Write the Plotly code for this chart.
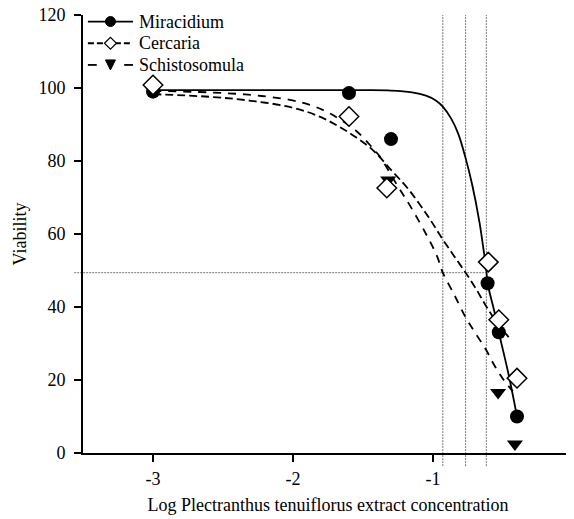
import plotly.graph_objects as go

# ---- data ----
mira_x = [-3.0, -1.60, -1.30, -0.61, -0.53, -0.40]
mira_y = [99.0, 98.6, 86.0, 46.5, 33.1, 10.0]

cerc_x = [-3.0, -1.60, -1.33, -0.605, -0.53, -0.40]
cerc_y = [100.8, 92.2, 72.6, 52.3, 36.5, 20.5]

schi_x = [-3.0, -1.32, -0.535, -0.415]
schi_y = [100.0, 74.8, 16.6, 2.5]

# fitted curves
mira_fit_x = [-3.0, -2.0, -1.5, -1.3, -1.15, -1.05, -0.98, -0.93, -0.87, -0.82, -0.77, -0.72, -0.667, -0.64, -0.62, -0.61, -0.56, -0.53, -0.46, -0.40]
mira_fit_y = [99.4, 99.4, 99.4, 99.3, 98.8, 97.9, 96.6, 94.9, 91.6, 87.5, 81.2, 73.5, 63.0, 56.0, 50.5, 46.5, 38.5, 33.1, 21.5, 10.0]

cerc_fit_x = [-3.0, -2.6, -2.3, -2.0, -1.8, -1.67, -1.55, -1.43, -1.31, -1.17, -1.03, -0.93, -0.85, -0.767, -0.69, -0.62, -0.54, -0.45]
cerc_fit_y = [98.3, 97.6, 96.5, 94.6, 92.0, 89.4, 86.5, 83.0, 78.0, 72.0, 64.5, 58.5, 54.0, 49.4, 44.8, 40.2, 35.6, 31.3]

schi_fit_x = [-3.0, -2.6, -2.3, -2.03, -1.88, -1.74, -1.55, -1.43, -1.38, -1.25, -1.16, -1.04, -0.97, -0.93, -0.85, -0.77, -0.70, -0.62, -0.56, -0.50, -0.43]
schi_fit_y = [99.2, 98.8, 98.1, 96.8, 95.4, 93.1, 88.3, 83.5, 81.2, 73.0, 67.5, 59.3, 53.8, 49.4, 43.5, 37.4, 33.0, 28.2, 23.9, 20.3, 16.9]

ec50_x = [-0.93, -0.767, -0.619]
half_y = 49.4

x_range = [-3.5, 0]
y_range = [0, 120]
x_ticks = [-3, -2, -1, 0]
y_ticks = [0, 20, 40, 60, 80, 100, 120]

legend_names = ["Miracidium", "Cercaria", "Schistosomula"]

FONT = "Liberation Serif, Times New Roman, serif"

fig = go.Figure()

# fit curves
fig.add_trace(go.Scatter(x=mira_fit_x, y=mira_fit_y, mode="lines", line=dict(color="black", width=1.8, shape="spline"), showlegend=False))
fig.add_trace(go.Scatter(x=cerc_fit_x, y=cerc_fit_y, mode="lines", line=dict(color="black", width=1.8, dash="8px,4px", shape="spline"), showlegend=False))
fig.add_trace(go.Scatter(x=schi_fit_x, y=schi_fit_y, mode="lines", line=dict(color="black", width=1.8, dash="8px,7px", shape="spline"), showlegend=False))

# points
fig.add_trace(go.Scatter(x=schi_x, y=schi_y, mode="markers", marker=dict(symbol="triangle-down", size=14, color="black"), showlegend=False))
fig.add_trace(go.Scatter(x=mira_x, y=mira_y, mode="markers", marker=dict(symbol="circle", size=14, color="black"), showlegend=False))
fig.add_trace(go.Scatter(x=cerc_x, y=cerc_y, mode="markers", marker=dict(symbol="diamond", size=15, color="white", line=dict(color="black", width=1.5)), showlegend=False))

# reference lines
span = x_range[1] - x_range[0]
for xv in ec50_x:
    fig.add_shape(type="line", xref="x", yref="paper", x0=xv, x1=xv, y0=-0.03, y1=1,
                  line=dict(color="#777777", width=1, dash="2px,1px"), layer="below")
fig.add_shape(type="line", xref="paper", yref="y", x0=-0.018, x1=(max(ec50_x) - x_range[0]) / span,
              y0=half_y, y1=half_y, line=dict(color="#777777", width=1, dash="2px,1px"), layer="below")

# ---- hand-drawn legend (paper coords, pixel-sized glyphs) ----
leg_y = [0.985, 0.9355, 0.886]
lx0, lx1, lmark, ltext = 0.010, 0.102, 0.056, 0.110
black = dict(color="black", width=1.8)
# Miracidium: solid line + filled circle
fig.add_shape(type="line", xref="paper", yref="paper", x0=lx0, x1=lx1, y0=leg_y[0], y1=leg_y[0], line=black)
fig.add_shape(type="circle", xref="paper", yref="paper", xsizemode="pixel", ysizemode="pixel",
              xanchor=lmark, yanchor=leg_y[0], x0=-5, x1=5, y0=-5, y1=5,
              fillcolor="black", line=dict(color="black", width=1))
# Cercaria: dashed line + open diamond
fig.add_shape(type="line", xref="paper", yref="paper", x0=lx0, x1=lx1, y0=leg_y[1], y1=leg_y[1],
              line=dict(color="black", width=1.8, dash="6px,3px"))
fig.add_shape(type="path", xref="paper", yref="paper", xsizemode="pixel", ysizemode="pixel",
              xanchor=lmark, yanchor=leg_y[1], path="M -6 0 L 0 6 L 6 0 L 0 -6 Z",
              fillcolor="white", line=dict(color="black", width=1.2))
# Schistosomula: two dashes + filled down triangle
fig.add_shape(type="line", xref="paper", yref="paper", x0=lx0, x1=lx0 + 0.018, y0=leg_y[2], y1=leg_y[2], line=black)
fig.add_shape(type="line", xref="paper", yref="paper", x0=lx1 - 0.018, x1=lx1, y0=leg_y[2], y1=leg_y[2], line=black)
fig.add_shape(type="path", xref="paper", yref="paper", xsizemode="pixel", ysizemode="pixel",
              xanchor=lmark, yanchor=leg_y[2], path="M -5 5 L 5 5 L 0 -5 Z",
              fillcolor="black", line=dict(color="black", width=1))
for name, yy in zip(legend_names, leg_y):
    fig.add_annotation(xref="paper", yref="paper", x=ltext, y=yy, text=name, showarrow=False,
                       xanchor="left", yanchor="middle", font=dict(family=FONT, size=18, color="black"))

axis_common = dict(showline=True, linecolor="black", linewidth=2, ticks="outside", ticklen=7,
                   tickwidth=2, tickcolor="black", showgrid=False, zeroline=False, automargin=False,
                   ticklabeloverflow="allow",
                   tickfont=dict(family=FONT, size=18, color="black"))

# page body has an 8px margin, so the figure is sized to fit the window
fig.update_layout(
    width=566, height=511,
    margin=dict(l=75, r=1, t=7, b=66),
    paper_bgcolor="white", plot_bgcolor="white",
    xaxis=dict(range=x_range, tickvals=x_ticks, ticktext=[str(t) for t in x_ticks],
               title=dict(text="Log Plectranthus tenuiflorus extract concentration",
                          font=dict(family=FONT, size=18, color="black"), standoff=11),
               ticklabelstandoff=1, **axis_common),
    yaxis=dict(range=y_range, tickvals=y_ticks,
               title=dict(text="Viability", font=dict(family=FONT, size=18, color="black"), standoff=7),
               ticklabelstandoff=5, **axis_common),
    showlegend=False,
)

fig.write_html("out.html")
